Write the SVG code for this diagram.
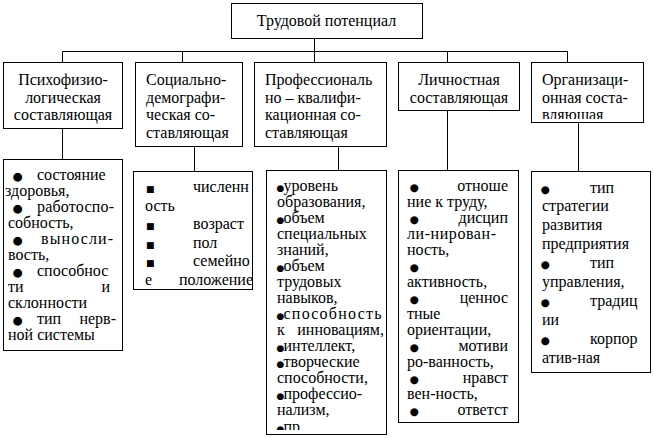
<svg xmlns="http://www.w3.org/2000/svg" width="654" height="438" viewBox="0 0 654 438" font-family="'Liberation Serif', 'DejaVu Serif', serif">
<style>
.box{fill:#fff;stroke:#000;stroke-width:1}
.c{stroke:#000;stroke-width:1;fill:none}
text{font-family:"Liberation Serif","DejaVu Serif",serif;font-size:16px;fill:#000}
.m{text-anchor:middle}
.e{text-anchor:end}
.bl{font-family:"DejaVu Sans",sans-serif;font-size:10.5px}
.bb{font-family:"DejaVu Sans",sans-serif;font-size:11.5px}
.bm{font-family:"DejaVu Sans",sans-serif;font-size:9px}
.sq{font-family:"DejaVu Sans",sans-serif;font-size:9px}
</style>
<defs>
<clipPath id="clip5"><rect x="531" y="62" width="113" height="57"/></clipPath>
<clipPath id="clip3"><rect x="266" y="170" width="121" height="260"/></clipPath>
</defs>
<rect width="654" height="438" fill="#fff"/>
<g id="connectors">
<path class="c" d="M314.5 38.5V62.5M62.5 51.5H567.5M62.5 51.5V62.5M182.5 51.5V62.5M447.5 51.5V62.5M567.5 51.5V62.5"/>
<path class="c" d="M62.5 128.5V159.5M194.5 146.5V171.5M338.5 146.5V170.5M447.5 110.5V170.5M578.5 122.5V171.5"/>
</g>
<g id="root">
<rect class="box" x="231.5" y="3.5" width="191" height="35"/>
<text class="m" x="326.5" y="26">Трудовой потенциал</text>
</g>
<g id="psycho">
<rect class="box" x="3.5" y="62.5" width="119" height="66"/>
<text class="m" x="63" y="85">Психофизио-</text>
<text class="m" x="63" y="102.5">логическая</text>
<text class="m" x="63" y="120">составляющая</text>
</g>
<g id="social">
<rect class="box" x="135.5" y="62.5" width="107" height="84"/>
<text x="146" y="85">Социально-</text>
<text x="146" y="102.5">демографи-</text>
<text x="146" y="120">ческая со-</text>
<text x="146" y="137.5">ставляющая</text>
</g>
<g id="prof">
<rect class="box" x="254.5" y="62.5" width="132" height="84"/>
<text x="265" y="85">Профессиональ</text>
<text x="265" y="102.5">но – квалифи-</text>
<text x="265" y="120">кационная со-</text>
<text x="265" y="137.5">ставляющая</text>
</g>
<g id="personal">
<rect class="box" x="398.5" y="62.5" width="121" height="48"/>
<text class="m" x="459" y="85">Личностная</text>
<text class="m" x="459" y="102.5">составляющая</text>
</g>
<g id="org">
<rect class="box" x="531.5" y="62.5" width="112" height="60"/>
<g clip-path="url(#clip5)">
<text x="542" y="85">Организаци-</text>
<text x="542" y="102.5">онная соста-</text>
<text x="542" y="120">вляющая</text>
</g>
</g>
<g id="psycho-items">
<rect class="box" x="3.5" y="159.5" width="119" height="191"/>
<text x="12.5" y="179.5"><tspan class="bb">●</tspan><tspan x="37">состояние</tspan></text>
<text x="5" y="195.5">здоровья,</text>
<text x="12.5" y="211.5"><tspan class="bb">●</tspan><tspan x="37" textLength="77" lengthAdjust="spacing">работоспо-</tspan></text>
<text x="8" y="227.5">собность,</text>
<text x="12.5" y="243.5"><tspan class="bb">●</tspan><tspan x="41" textLength="72" lengthAdjust="spacing">выносли-</tspan></text>
<text x="8" y="259.5">вость,</text>
<text x="12.5" y="275.5"><tspan class="bb">●</tspan><tspan x="37">способнос</tspan></text>
<text x="8" y="291.5">ти</text><text class="e" x="110" y="291.5">и</text>
<text x="8" y="307.5">склонности</text>
<text x="12.5" y="323.5"><tspan class="bb">●</tspan><tspan x="37">тип</tspan></text><text class="e" x="116" y="323.5">нерв-</text>
<text x="8" y="339.5">ной системы</text>
</g>
<g id="social-items">
<rect class="box" x="133.5" y="171.5" width="119" height="118"/>
<text x="146" y="192"><tspan class="sq">■</tspan><tspan x="193">численн</tspan></text>
<text x="145" y="210.5">ость</text>
<text x="146" y="229"><tspan class="sq">■</tspan><tspan x="193">возраст</tspan></text>
<text x="146" y="247.5"><tspan class="sq">■</tspan><tspan x="193">пол</tspan></text>
<text x="146" y="266"><tspan class="sq">■</tspan><tspan x="193">семейно</tspan></text>
<text x="145" y="284.5">е</text><text class="e" x="253" y="284.5">положение</text>
</g>
<g id="prof-items">
<rect class="box" x="266.5" y="170.5" width="120" height="264"/>
<g clip-path="url(#clip3)">
<text x="276.5" y="191"><tspan class="bm">●</tspan><tspan x="283.5">уровень</tspan></text>
<text x="277" y="207">образования,</text>
<text x="276.5" y="223"><tspan class="bm">●</tspan><tspan x="283.5">объем</tspan></text>
<text x="277" y="239">специальных</text>
<text x="277" y="255">знаний,</text>
<text x="276.5" y="271"><tspan class="bm">●</tspan><tspan x="283.5">объем</tspan></text>
<text x="277" y="287">трудовых</text>
<text x="277" y="303">навыков,</text>
<text x="276.5" y="319"><tspan class="bm">●</tspan><tspan x="283.5" textLength="98" lengthAdjust="spacing">способность</tspan></text>
<text x="277" y="335">к</text><text class="e" x="384" y="335">инновациям,</text>
<text x="276.5" y="351"><tspan class="bm">●</tspan><tspan x="283.5">интеллект,</tspan></text>
<text x="276.5" y="367"><tspan class="bm">●</tspan><tspan x="283.5">творческие</tspan></text>
<text x="277" y="383">способности,</text>
<text x="276.5" y="399"><tspan class="bm">●</tspan><tspan x="283.5">профессио-</tspan></text>
<text x="277" y="415">нализм,</text>
<text x="276.5" y="432"><tspan class="bm">●</tspan><tspan x="283.5">пр</tspan></text>
</g>
</g>
<g id="personal-items">
<rect class="box" x="398.5" y="170.5" width="120" height="252"/>
<text x="409.5" y="191"><tspan class="bl">●</tspan></text><text class="e" x="508" y="191">отноше</text>
<text x="407" y="207">ние к труду,</text>
<text x="409.5" y="223"><tspan class="bl">●</tspan></text><text class="e" x="508" y="223">дисцип</text>
<text x="407" y="239" textLength="89" lengthAdjust="spacing">ли-нирован-</text>
<text x="407" y="255">ность,</text>
<text x="409.5" y="271"><tspan class="bl">●</tspan></text>
<text x="407" y="287">активность,</text>
<text x="409.5" y="303"><tspan class="bl">●</tspan></text><text class="e" x="508" y="303">ценнос</text>
<text x="407" y="319">тные</text>
<text x="407" y="335">ориентации,</text>
<text x="409.5" y="351"><tspan class="bl">●</tspan></text><text class="e" x="508" y="351">мотиви</text>
<text x="407" y="367">ро-ванность,</text>
<text x="409.5" y="383"><tspan class="bl">●</tspan></text><text class="e" x="508" y="383">нравст</text>
<text x="407" y="399">вен-ность,</text>
<text x="409.5" y="415"><tspan class="bl">●</tspan></text><text class="e" x="508" y="415">ответст</text>
</g>
<g id="org-items">
<rect class="box" x="531.5" y="171.5" width="119" height="201"/>
<text x="540.5" y="192.5"><tspan class="bl">●</tspan><tspan x="590">тип</tspan></text>
<text x="542" y="211.4">стратегии</text>
<text x="542" y="230.3">развития</text>
<text x="542" y="249.2">предприятия</text>
<text x="540.5" y="268.1"><tspan class="bl">●</tspan><tspan x="590">тип</tspan></text>
<text x="542" y="287">управления,</text>
<text x="540.5" y="305.9"><tspan class="bl">●</tspan><tspan x="590">традиц</tspan></text>
<text x="542" y="324.8">ии</text>
<text x="540.5" y="343.7"><tspan class="bl">●</tspan><tspan x="590">корпор</tspan></text>
<text x="542" y="362.6">атив-ная</text>
</g>
</svg>
